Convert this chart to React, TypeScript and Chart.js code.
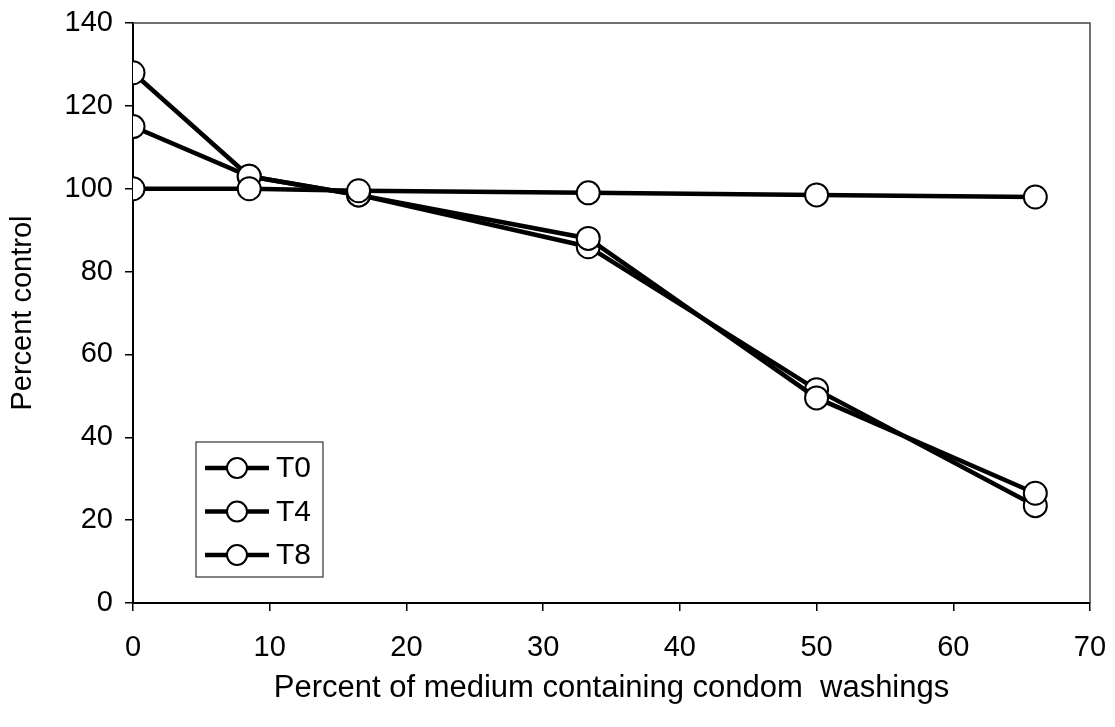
import React, { useEffect, useRef } from "react";
import { Chart, registerables } from "chart.js";

Chart.register(...registerables);

const concentrations = [0, 8.5, 16.5, 33.3, 50, 66];
const seriesLabels = ["T0", "T4", "T8"];
const t0Values = [100, 100, 99.5, 99, 98.5, 98];
const t4Values = [115, 103, 98.5, 88, 49.5, 26.5];
const t8Values = [128, 103, 98.5, 86, 51.5, 23.5];
const xTitle = "Percent of medium containing condom  washings";
const yTitle = "Percent control";

const FONT = "'Liberation Sans', Arial, sans-serif";

const frameAndLegend = {
  id: "frameAndLegend",
  beforeDatasetsDraw(chart: any) {
    const { ctx, chartArea } = chart;
    ctx.save();
    ctx.strokeStyle = "#444";
    ctx.lineWidth = 1.5;
    ctx.beginPath();
    ctx.moveTo(chartArea.left, chartArea.top);
    ctx.lineTo(chartArea.right, chartArea.top);
    ctx.lineTo(chartArea.right, chartArea.bottom);
    ctx.stroke();
    ctx.restore();
  },
  afterDraw(chart: any) {
    const { ctx, chartArea } = chart;
    const boxL = chartArea.left + 63;
    const boxT = chartArea.bottom - 161;
    const boxW = 127;
    const boxH = 135;
    ctx.save();
    ctx.fillStyle = "#fff";
    ctx.fillRect(boxL, boxT, boxW, boxH);
    ctx.strokeStyle = "#333";
    ctx.lineWidth = 1.2;
    ctx.strokeRect(boxL, boxT, boxW, boxH);
    chart.data.datasets.forEach((ds: any, i: number) => {
      const cy = boxT + 26 + i * 43.5;
      ctx.strokeStyle = "#000";
      ctx.lineWidth = 4.5;
      ctx.beginPath();
      ctx.moveTo(boxL + 9, cy);
      ctx.lineTo(boxL + 73, cy);
      ctx.stroke();
      ctx.beginPath();
      ctx.arc(boxL + 41, cy, 10, 0, Math.PI * 2);
      ctx.fillStyle = "#fff";
      ctx.fill();
      ctx.lineWidth = 2;
      ctx.stroke();
      ctx.fillStyle = "#000";
      ctx.font = `30px ${FONT}`;
      ctx.textAlign = "left";
      ctx.textBaseline = "middle";
      ctx.fillText(ds.label, boxL + 80, cy + 1);
    });
    ctx.restore();
  },
};

export default function App() {
  const canvasRef = useRef<HTMLCanvasElement | null>(null);

  useEffect(() => {
    document.body.style.margin = "0";
    const canvas = canvasRef.current;
    if (!canvas) return;
    const allValues = [t0Values, t4Values, t8Values];
    const datasets = seriesLabels.map((label, i) => ({
      label,
      data: concentrations.map((x, j) => ({ x, y: allValues[i][j] })),
      borderColor: "#000",
      borderWidth: 4.5,
      pointRadius: 11.5,
      pointBorderWidth: 2,
      pointBackgroundColor: "#fff",
      pointBorderColor: "#000",
      showLine: true,
      tension: 0,
    }));

    const chart = new Chart(canvas, {
      type: "scatter",
      data: { datasets },
      plugins: [frameAndLegend],
      options: {
        animation: false,
        responsive: true,
        maintainAspectRatio: false,
        layout: { padding: { top: 23, right: 25, left: 0, bottom: 0 } },
        plugins: {
          legend: { display: false },
          tooltip: { enabled: false },
        },
        scales: {
          x: {
            type: "linear",
            min: 0,
            max: 70,
            ticks: {
              stepSize: 10,
              color: "#000",
              padding: 20,
              font: { size: 29, family: FONT },
              maxRotation: 0,
            },
            grid: {
              display: true,
              drawOnChartArea: false,
              drawTicks: true,
              tickLength: 8,
              color: "#000",
              lineWidth: 1.5,
            },
            border: { display: true, color: "#000", width: 2 },
            title: {
              display: true,
              text: xTitle,
              color: "#000",
              font: { size: 31, family: FONT },
              padding: { top: 0, bottom: 20 },
            },
            afterFit: (scale: any) => {
              scale.height = 124;
              scale.paddingLeft = 0;
              scale.paddingRight = 0;
            },
          },
          y: {
            type: "linear",
            min: 0,
            max: 140,
            ticks: {
              stepSize: 20,
              color: "#000",
              padding: 12,
              font: { size: 29, family: FONT },
            },
            grid: {
              display: true,
              drawOnChartArea: false,
              drawTicks: true,
              tickLength: 8,
              color: "#000",
              lineWidth: 1.5,
            },
            border: { display: true, color: "#000", width: 2 },
            title: {
              display: true,
              text: yTitle,
              color: "#000",
              font: { size: 29, family: FONT },
              padding: { top: 6, bottom: 0 },
            },
            afterFit: (scale: any) => {
              scale.width = 133;
              scale.paddingTop = 0;
              scale.paddingBottom = 0;
            },
          },
        },
      },
    } as any);
    return () => chart.destroy();
  }, []);

  return (
    <div style={{ position: "fixed", left: 0, top: 0, width: 1115, height: 727, background: "#fff" }}>
      <canvas ref={canvasRef} />
    </div>
  );
}
